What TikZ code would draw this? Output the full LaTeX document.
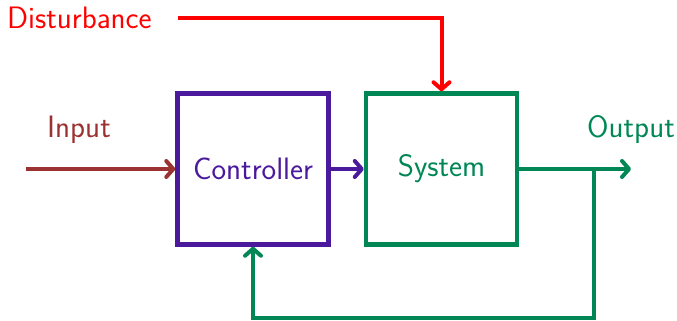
\documentclass[tikz,border=0pt]{standalone}
\usetikzlibrary{arrows.meta}
\definecolor{cin}{RGB}{155,50,50}
\definecolor{cctl}{RGB}{75,25,155}
\definecolor{csys}{RGB}{0,135,85}
\definecolor{cdist}{RGB}{255,0,0}
\begin{document}
\begin{tikzpicture}[x=1pt,y=-1pt,
  font=\sffamily\fontsize{31}{37}\selectfont,
  every node/.style={inner sep=0pt},
  blockbox/.style={draw,line width=4.5pt,minimum width=151pt,minimum height=151pt},
  conn/.style={line width=4pt,-{Straight Barb[length=7pt,width=16pt,round]}},
  plain/.style={line width=4pt}]
\useasboundingbox (0,0) rectangle (677,321);
\node[blockbox,draw=cctl,text=cctl] (ctl) at (253,169) {Controller};
\node[blockbox,draw=csys,text=csys] (sys) at (441.5,169) {\raisebox{2pt}{System}};
\node[text=cdist,anchor=west] (dist) at (7,18) {Disturbance};
\node[text=cin] (inlbl) at (79,130) {Input};
\node[text=csys] (outlbl) at (631,130) {Output};
\coordinate (din) at (178,18);
\coordinate (dcorner) at (441.5,18);
\coordinate (istart) at (26,169);
\coordinate (oend) at (631,169);
\coordinate (branch) at (594,169);
\coordinate (fb1) at (594,318);
\coordinate (fb2) at (253,318);
\draw[conn,cdist] (din) -- (dcorner) -- (sys.north);
\draw[conn,cin] (istart) -- (ctl.west);
\draw[conn,cctl] (ctl.east) -- (sys.west);
\draw[conn,csys] (sys.east) -- (oend);
\draw[conn,csys] (branch) -- (fb1) -- (fb2) -- (ctl.south);
\end{tikzpicture}
\end{document}
